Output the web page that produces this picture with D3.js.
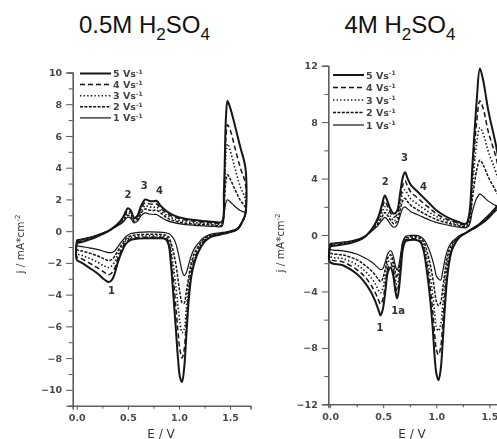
<!DOCTYPE html>
<html>
<head>
<meta charset="utf-8">
<script src="https://cdn.jsdelivr.net/npm/d3@7"></script>
<style>
  body { margin: 0; background: #fff; }
  svg text { font-family: "DejaVu Sans", Verdana, sans-serif; }
  svg text.title { font-family: "Liberation Sans", Arial, sans-serif; }
</style>
</head>
<body>
<svg id="chart" width="497" height="439"></svg>
<script>
// ---------- Data: cyclic voltammograms of Pt in H2SO4 at five scan rates ----------
const scanRates = ["5", "4", "3", "2", "1"];           // V s^-1, legend order
const panelTitles = ["0.5M", "4M"];
const xTickLabels = [0.0, 0.5, 1.0, 1.5];
const yTicksDilute = [-10, -8, -6, -4, -2, 0, 2, 4, 6, 8, 10];
const yTicksConc = [-12, -8, -4, 0, 4, 8, 12];

// 0.5 M H2SO4 — potential grids (V) for the anodic and cathodic sweeps
const diluteAnodicE = [0.00,0.08,0.16,0.24,0.32,0.40,0.45,0.48,0.50,0.53,0.56,0.59,0.63,0.67,0.71,0.75,0.78,0.82,0.88,0.95,1.05,1.15,1.25,1.35,1.42,1.44,1.46,1.475,1.50,1.55,1.60,1.65];
const diluteCathodicE = [1.65,1.62,1.57,1.48,1.40,1.30,1.24,1.19,1.15,1.12,1.095,1.07,1.05,1.03,1.01,0.99,0.97,0.945,0.92,0.90,0.87,0.80,0.70,0.60,0.53,0.48,0.44,0.40,0.37,0.34,0.31,0.27,0.20,0.12,0.05,0.00];

// current density j (mA cm^-2), anodic sweep
const diluteAnodic5 = [-0.75,-0.62,-0.45,-0.22,0.05,0.45,0.85,1.25,1.45,1.3,0.85,0.95,1.6,2.0,1.9,1.88,1.92,1.6,1.25,1.0,0.8,0.7,0.63,0.58,0.6,2.5,7.2,8.2,7.8,6.6,5.3,4.0];
const diluteAnodic4 = [-0.7,-0.58,-0.42,-0.2,0.05,0.42,0.78,1.12,1.3,1.18,0.8,0.88,1.45,1.8,1.72,1.7,1.72,1.45,1.12,0.9,0.72,0.62,0.56,0.52,0.53,2.2,6.0,6.7,6.4,5.2,4.0,3.0];
const diluteAnodic3 = [-0.65,-0.54,-0.39,-0.18,0.05,0.4,0.7,1.0,1.15,1.05,0.72,0.8,1.3,1.6,1.52,1.5,1.52,1.3,1.0,0.78,0.62,0.54,0.5,0.46,0.47,1.8,4.9,5.5,5.1,3.9,2.8,2.0];
const diluteAnodic2 = [-0.6,-0.5,-0.36,-0.16,0.05,0.37,0.62,0.9,1.0,0.92,0.62,0.7,1.15,1.4,1.33,1.3,1.32,1.15,0.85,0.66,0.52,0.45,0.42,0.38,0.39,1.4,3.2,3.55,3.3,2.6,1.95,1.5];
const diluteAnodic1 = [-0.55,-0.45,-0.32,-0.15,0.05,0.35,0.55,0.78,0.88,0.8,0.52,0.6,0.98,1.15,1.08,1.05,1.05,0.9,0.68,0.54,0.43,0.37,0.33,0.3,0.31,1.0,1.8,1.98,1.85,1.55,1.3,1.15];

// current density j (mA cm^-2), cathodic sweep
const diluteCathodic5 = [1.1,0.6,0.1,-0.1,-0.22,-0.4,-0.75,-1.3,-2.0,-2.9,-4.4,-6.8,-8.7,-9.5,-9.2,-8.0,-6.2,-4.0,-2.0,-0.9,-0.5,-0.45,-0.45,-0.47,-0.55,-0.8,-1.3,-2.0,-2.7,-3.1,-3.2,-3.05,-2.65,-2.3,-2.0,-1.8];
const diluteCathodic4 = [1.1,0.6,0.12,-0.08,-0.2,-0.36,-0.68,-1.2,-1.8,-2.6,-3.9,-5.9,-7.5,-8.0,-7.5,-6.3,-4.8,-3.0,-1.5,-0.7,-0.42,-0.38,-0.38,-0.4,-0.47,-0.7,-1.15,-1.75,-2.35,-2.65,-2.75,-2.6,-2.3,-2.0,-1.75,-1.6];
const diluteCathodic3 = [1.1,0.6,0.14,-0.06,-0.18,-0.32,-0.6,-1.1,-1.6,-2.3,-3.4,-5.0,-6.2,-6.4,-5.8,-4.7,-3.5,-2.2,-1.1,-0.55,-0.34,-0.3,-0.3,-0.32,-0.4,-0.6,-1.0,-1.5,-1.95,-2.2,-2.3,-2.2,-1.95,-1.7,-1.52,-1.4];
const diluteCathodic2 = [1.1,0.6,0.15,-0.04,-0.15,-0.28,-0.52,-0.95,-1.4,-2.0,-2.9,-3.9,-4.55,-4.5,-3.9,-3.0,-2.1,-1.3,-0.7,-0.38,-0.25,-0.2,-0.2,-0.22,-0.3,-0.5,-0.85,-1.25,-1.6,-1.8,-1.85,-1.75,-1.55,-1.38,-1.25,-1.15];
const diluteCathodic1 = [1.05,0.6,0.17,-0.02,-0.1,-0.22,-0.42,-0.75,-1.1,-1.55,-2.1,-2.65,-2.8,-2.5,-1.9,-1.3,-0.8,-0.45,-0.25,-0.15,-0.1,-0.06,-0.04,-0.08,-0.15,-0.35,-0.65,-1.0,-1.25,-1.35,-1.35,-1.28,-1.15,-1.05,-0.97,-0.9];

// 4 M H2SO4 — potential grids (V)
const concAnodicE = [0.00,0.10,0.20,0.28,0.34,0.38,0.42,0.455,0.49,0.515,0.54,0.57,0.60,0.63,0.66,0.685,0.705,0.73,0.76,0.82,0.88,0.94,1.00,1.07,1.14,1.21,1.28,1.31,1.34,1.38,1.41,1.44,1.49,1.555,1.60,1.65];
const concCathodicE = [1.65,1.60,1.55,1.48,1.40,1.35,1.29,1.22,1.18,1.146,1.12,1.10,1.08,1.06,1.04,1.02,1.00,0.985,0.965,0.94,0.91,0.88,0.85,0.81,0.76,0.71,0.685,0.665,0.645,0.63,0.615,0.595,0.57,0.545,0.52,0.495,0.475,0.455,0.42,0.377,0.32,0.25,0.125,0.00];

const concAnodic5 = [-0.8,-0.7,-0.55,-0.35,-0.05,0.3,0.75,1.3,2.2,2.8,2.4,1.8,1.5,1.7,3.0,4.1,4.45,4.0,3.55,3.1,2.65,2.2,1.75,1.4,1.12,0.92,0.8,1.5,5.0,9.5,11.8,11.0,8.8,6.6,4.9,3.6];
const concAnodic4 = [-0.75,-0.66,-0.52,-0.33,-0.05,0.27,0.67,1.15,1.9,2.4,2.05,1.55,1.25,1.45,2.6,3.55,3.85,3.45,3.05,2.65,2.25,1.88,1.5,1.22,1.0,0.84,0.72,1.3,4.2,8.0,9.5,9.0,7.3,5.7,4.3,3.2];
const concAnodic3 = [-0.7,-0.62,-0.49,-0.31,-0.04,0.25,0.6,1.0,1.6,2.0,1.72,1.3,1.0,1.2,2.2,3.0,3.2,2.88,2.55,2.2,1.88,1.58,1.3,1.08,0.9,0.76,0.65,1.1,3.4,6.5,7.6,7.2,5.9,4.6,3.5,2.7];
const concAnodic2 = [-0.65,-0.57,-0.45,-0.28,-0.03,0.22,0.52,0.85,1.3,1.6,1.4,1.05,0.8,0.95,1.8,2.45,2.6,2.35,2.1,1.8,1.55,1.3,1.1,0.92,0.78,0.66,0.58,0.9,2.6,4.6,5.3,5.0,4.1,3.2,2.6,2.1];
const concAnodic1 = [-0.6,-0.52,-0.41,-0.25,-0.02,0.2,0.45,0.72,1.05,1.25,1.1,0.75,0.55,0.7,1.4,1.9,2.0,1.85,1.65,1.45,1.25,1.05,0.9,0.76,0.65,0.56,0.52,0.7,1.7,2.6,2.9,2.75,2.4,2.1,1.9,1.8];

const concCathodic5 = [2.6,2.3,1.85,1.3,0.75,0.5,0.2,-0.15,-0.55,-1.1,-2.0,-3.2,-5.2,-7.6,-9.6,-10.3,-9.8,-8.7,-6.5,-4.4,-2.5,-1.1,-0.5,-0.35,-0.35,-0.45,-1.0,-2.5,-4.0,-4.5,-4.0,-2.9,-2.3,-2.6,-4.0,-5.3,-5.7,-5.3,-4.6,-3.94,-3.3,-2.75,-2.16,-1.93];
const concCathodic4 = [2.5,2.2,1.8,1.25,0.72,0.48,0.2,-0.12,-0.48,-0.95,-1.7,-2.7,-4.3,-6.3,-8.0,-8.5,-8.1,-7.1,-5.3,-3.6,-2.0,-0.9,-0.42,-0.28,-0.27,-0.37,-0.85,-2.2,-3.55,-4.0,-3.6,-2.6,-2.0,-2.3,-3.5,-4.6,-4.9,-4.6,-4.0,-3.45,-2.9,-2.45,-1.92,-1.7];
const concCathodic3 = [2.4,2.1,1.75,1.2,0.7,0.46,0.2,-0.1,-0.42,-0.8,-1.4,-2.2,-3.5,-5.0,-6.4,-6.8,-6.5,-5.6,-4.2,-2.8,-1.55,-0.7,-0.33,-0.2,-0.2,-0.28,-0.7,-1.9,-3.1,-3.5,-3.15,-2.25,-1.7,-1.95,-2.9,-3.8,-4.1,-3.9,-3.4,-2.95,-2.5,-2.1,-1.68,-1.5];
const concCathodic2 = [2.3,2.0,1.7,1.15,0.68,0.44,0.2,-0.07,-0.35,-0.65,-1.1,-1.7,-2.7,-3.8,-4.8,-5.0,-4.7,-4.0,-3.0,-2.0,-1.1,-0.45,-0.22,-0.12,-0.12,-0.2,-0.55,-1.6,-2.6,-3.0,-2.7,-1.9,-1.4,-1.6,-2.4,-3.1,-3.3,-3.15,-2.8,-2.45,-2.1,-1.75,-1.42,-1.25];
const concCathodic1 = [2.2,1.95,1.65,1.1,0.65,0.42,0.2,-0.04,-0.28,-0.5,-0.8,-1.2,-1.8,-2.6,-3.2,-3.1,-2.9,-2.4,-1.8,-1.2,-0.65,-0.3,-0.1,-0.03,-0.03,-0.1,-0.45,-1.35,-2.2,-2.5,-2.2,-1.5,-1.1,-1.3,-1.9,-2.4,-2.45,-2.35,-2.1,-1.85,-1.6,-1.35,-1.12,-1.0];

// peak labels: [E, j, text]
const dilutePeakLabels = [[0.50, 2.3, "2"], [0.66, 2.85, "3"], [0.81, 2.55, "4"], [0.34, -3.8, "1"]];
const concPeakLabels = [[0.52, 3.78, "2"], [0.70, 5.48, "3"], [0.88, 3.4, "4"], [0.47, -6.6, "1"], [0.64, -5.4, "1a"]];

// ---------- Styling ----------
const seriesStyle = {
  "5": { dash: null, width: 2.0 },
  "4": { dash: "5,3", width: 1.5 },
  "3": { dash: "1.4,2.2", width: 1.6 },
  "2": { dash: "3,1.4", width: 1.5 },
  "1": { dash: null, width: 1.2 }
};
const ink = "#151515";

const svg = d3.select("#chart");

// soft rendering of the plotted figure
svg.append("defs").append("filter").attr("id", "soft")
  .append("feGaussianBlur").attr("stdDeviation", 0.35);

const panels = [
  {
    title: panelTitles[0], titleX: 144.5,
    anodicE: diluteAnodicE, cathodicE: diluteCathodicE,
    anodic: { "5": diluteAnodic5, "4": diluteAnodic4, "3": diluteAnodic3, "2": diluteAnodic2, "1": diluteAnodic1 },
    cathodic: { "5": diluteCathodic5, "4": diluteCathodic4, "3": diluteCathodic3, "2": diluteCathodic2, "1": diluteCathodic1 },
    x: d3.scaleLinear().domain([-0.04, 1.70]).range([72.7, 250.5]),
    y: d3.scaleLinear().domain([-11, 10]).range([405.7, 72.5]),
    yMajor: yTicksDilute, yMinor: d3.range(-11, 10, 1).filter(v => v % 2 !== 0),
    yLabelX: 24, yLabelY: 244, xLabelX: 161,
    legendX: 80, legendY: 73.5, legendStep: 11.1,
    peaks: dilutePeakLabels
  },
  {
    title: panelTitles[1], titleX: 400,
    anodicE: concAnodicE, cathodicE: concCathodicE,
    anodic: { "5": concAnodic5, "4": concAnodic4, "3": concAnodic3, "2": concAnodic2, "1": concAnodic1 },
    cathodic: { "5": concCathodic5, "4": concCathodic4, "3": concCathodic3, "2": concCathodic2, "1": concCathodic1 },
    x: d3.scaleLinear().domain([-0.017, 1.575]).range([328.3, 497.4]),
    y: d3.scaleLinear().domain([-12, 12]).range([404.3, 65.7]),
    yMajor: yTicksConc, yMinor: [-10, -6, -2, 2, 6, 10],
    yLabelX: 284, yLabelY: 243, xLabelX: 412,
    legendX: 333, legendY: 75, legendStep: 12.5,
    peaks: concPeakLabels
  }
];

panels.forEach(p => {
  // Title with subscripts
  const t = svg.append("text")
    .attr("class", "title")
    .attr("x", p.titleX).attr("y", 33)
    .attr("text-anchor", "middle")
    .attr("font-size", 24).attr("fill", "#111");
  t.append("tspan").text(p.title + " H");
  t.append("tspan").attr("font-size", 17).attr("dy", 7).text("2");
  t.append("tspan").attr("dy", -7).text("SO");
  t.append("tspan").attr("font-size", 17).attr("dy", 7).text("4");

  const g = svg.append("g").attr("filter", "url(#soft)");
  const [x0] = p.x.range();
  const [y0] = p.y.range();

  // Axes
  const yAxis = d3.axisLeft(p.y).tickValues(p.yMajor).tickSize(6.5).tickPadding(4).tickFormat(d3.format("d"));
  const yMinorAxis = d3.axisLeft(p.y).tickValues(p.yMinor).tickSize(4).tickFormat("");
  const xAxis = d3.axisBottom(p.x).tickValues(xTickLabels).tickSize(4).tickPadding(5).tickFormat(d3.format(".1f"));
  const xMinorAxis = d3.axisBottom(p.x).tickValues([0.25, 0.75, 1.25]).tickSize(3).tickFormat("");

  [
    g.append("g").attr("transform", `translate(${x0},0)`).call(yAxis),
    g.append("g").attr("transform", `translate(${x0},0)`).call(yMinorAxis),
    g.append("g").attr("transform", `translate(0,${y0})`).call(xAxis),
    g.append("g").attr("transform", `translate(0,${y0})`).call(xMinorAxis)
  ].forEach(a => {
    a.select(".domain").attr("stroke", "#555").attr("stroke-width", 1.1);
    a.selectAll(".tick line").attr("stroke", "#555");
    a.selectAll(".tick text").attr("fill", "#4a4a4a").attr("font-size", 9.5)
      .attr("font-weight", "bold").attr("font-family", "DejaVu Sans, Verdana, sans-serif");
  });

  // Axis titles
  g.append("text").attr("x", p.xLabelX).attr("y", 437.5)
    .attr("text-anchor", "middle").attr("font-size", 12).attr("fill", "#333")
    .text("E / V");
  const yl = g.append("text")
    .attr("transform", `translate(${p.yLabelX},${p.yLabelY}) rotate(-90)`)
    .attr("text-anchor", "middle").attr("font-size", 10.5).attr("fill", "#333");
  yl.append("tspan").text("j / mA*cm");
  yl.append("tspan").attr("font-size", 7).attr("dy", -4.5).text("-2");

  // Voltammograms: anodic sweep followed by cathodic sweep, closed at the lower vertex
  const line = d3.line()
    .x(d => p.x(d[0])).y(d => p.y(d[1]))
    .curve(d3.curveCatmullRom.alpha(0.5));

  [...scanRates].reverse().forEach(rate => {
    const up = p.anodicE.map((e, i) => [e, p.anodic[rate][i]]);
    const down = p.cathodicE.map((e, i) => [e, p.cathodic[rate][i]]);
    const loop = up.concat(down, [up[0]]);
    const s = seriesStyle[rate];
    g.append("path")
      .datum(loop)
      .attr("d", line)
      .attr("fill", "none")
      .attr("stroke", ink)
      .attr("stroke-width", s.width)
      .attr("stroke-dasharray", s.dash)
      .attr("stroke-linejoin", "round");
  });

  // Legend
  scanRates.forEach((rate, i) => {
    const ly = p.legendY + i * p.legendStep;
    const s = seriesStyle[rate];
    g.append("line")
      .attr("x1", p.legendX).attr("x2", p.legendX + 31)
      .attr("y1", ly).attr("y2", ly)
      .attr("stroke", ink).attr("stroke-width", s.width)
      .attr("stroke-dasharray", s.dash);
    const lt = g.append("text")
      .attr("x", p.legendX + 33).attr("y", ly + 3.5)
      .attr("font-size", 9.5).attr("font-weight", "bold").attr("fill", "#444");
    lt.append("tspan").text(rate + " Vs");
    lt.append("tspan").attr("font-size", 6).attr("dy", -3.5).text("-1");
  });

  // Peak labels
  g.selectAll("text.peak")
    .data(p.peaks)
    .join("text")
    .attr("class", "peak")
    .attr("x", d => p.x(d[0])).attr("y", d => p.y(d[1]))
    .attr("text-anchor", "middle").attr("dominant-baseline", "middle")
    .attr("font-size", 10).attr("font-weight", "bold").attr("fill", "#333")
    .text(d => d[2]);
});
</script>
</body>
</html>
